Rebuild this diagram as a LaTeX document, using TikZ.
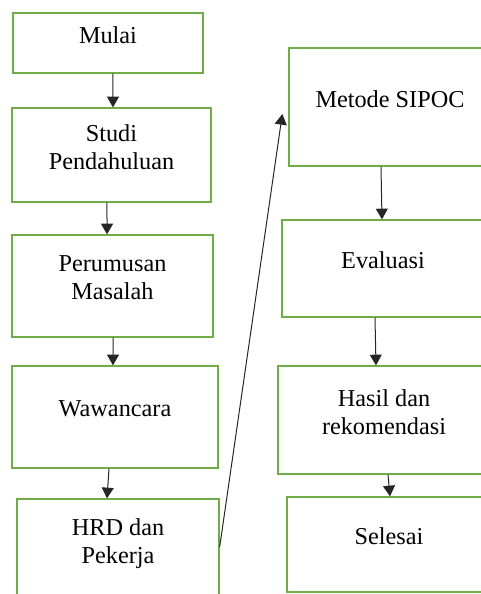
\documentclass[tikz,border=0pt]{standalone}
\usepackage{fontspec}
\setmainfont{Liberation Serif}
\usepackage{tikz}
\usetikzlibrary{arrows.meta}

\definecolor{boxgreen}{RGB}{112,173,71}

\begin{document}
\begin{tikzpicture}[
  x=0.75pt, y=-0.75pt,
  box/.style={rectangle, draw=boxgreen, line width=1pt, align=center, font=\fontsize{18.2}{21}\selectfont, text depth=12pt},
  arrow/.style={-{Triangle[width=9pt,length=8pt]}, line width=0.75pt, draw=black!85}
]
  \useasboundingbox (0,0) rectangle (480,594);
  \node[box, minimum width=142.5pt, minimum height=45pt] (mulai) at (108,43) {Mulai};
  \node[box, minimum width=149.25pt, minimum height=70.5pt] (studi) at (111.5,155) {Studi\\Pendahuluan};
  \node[box, minimum width=150.75pt, minimum height=76.5pt] (rumusan) at (112.5,286) {Perumusan\\Masalah};
  \node[box, minimum width=154.5pt, minimum height=76.5pt] (wawancara) at (115,417) {Wawancara};
  \node[box, minimum width=151.5pt, minimum height=75.75pt] (hrd) at (118,549.5) {HRD dan\\Pekerja};
  \node[box, minimum width=151.5pt, minimum height=88.5pt] (sipoc) at (390,107) {Metode SIPOC};
  \node[box, minimum width=151.5pt, minimum height=72.75pt] (evaluasi) at (383,268.5) {Evaluasi};
  \node[box, minimum width=159pt, minimum height=81pt] (hasil) at (384,420) {Hasil dan\\rekomendasi};
  \node[box, minimum width=153pt, minimum height=71.25pt] (selesai) at (389,544.5) {Selesai};
  \draw[arrow] ([xshift=3.75pt]mulai.south) -- ([xshift=1.1pt]studi.north);
  \draw[arrow] ([xshift=-3.4pt]studi.south) -- ([xshift=-4.1pt]rumusan.north);
  \draw[arrow] ([xshift=0.4pt]rumusan.south) -- ([xshift=-1.5pt]wawancara.north);
  \draw[arrow] ([xshift=-4.5pt]wawancara.south) -- ([xshift=-8.25pt]hrd.north);
  \draw[arrow] ([yshift=1.9pt]hrd.east) -- ([xshift=-4.5pt,yshift=-5.25pt]sipoc.west);
  \draw[arrow] ([xshift=-6.75pt]sipoc.south) -- ([xshift=-0.75pt]evaluasi.north);
  \draw[arrow] ([xshift=-6pt]evaluasi.south) -- ([xshift=-6pt]hasil.north);
  \draw[arrow] ([xshift=3pt]hasil.south) -- ([xshift=0.75pt]selesai.north);
\end{tikzpicture}
\end{document}
